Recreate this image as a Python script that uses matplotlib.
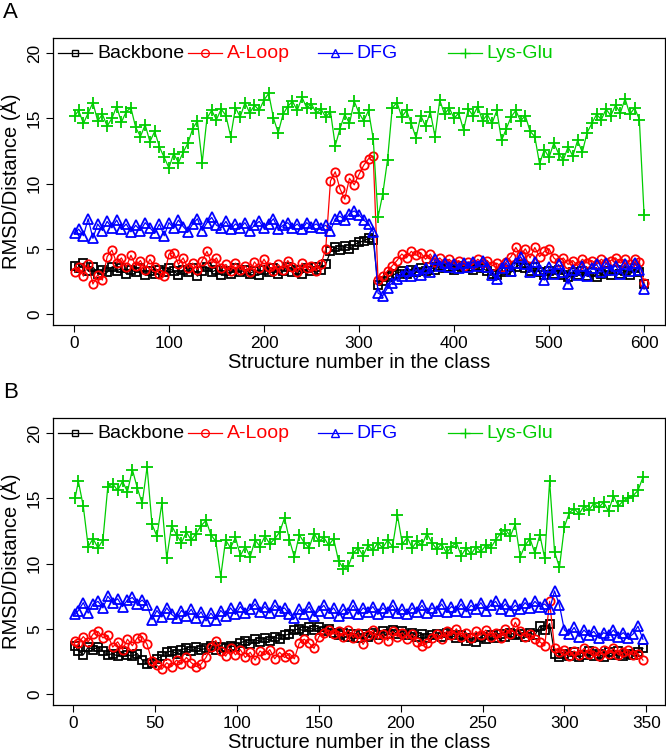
import numpy as np
import matplotlib
matplotlib.use('Agg')
import matplotlib.pyplot as plt
from matplotlib.transforms import blended_transform_factory

plt.rcParams['font.family'] = ['Liberation Sans', 'DejaVu Sans']

names = ['Backbone', 'A-Loop', 'DFG', 'Lys-Glu']
colors = ['#000000', '#FF0000', '#0000FF', '#00CD00']
markers = ['s', 'o', '^', '+']
msizes = [5.5, 6, 6.5, 8]

# ---- panel A : 600 structures (read every 5th structure) ----
x_a = np.r_[1, np.arange(5, 601, 5)]

backbone_a = [3.7, 3.5, 3.9, 3.3, 3.6, 3.1, 3.4, 3.2, 3.6, 3.3,
              3.5, 3.1, 3.4, 3.2, 3.5, 3.0, 3.3, 3.1, 3.4, 3.2,
              3.5, 3.3, 3.0, 3.4, 3.2, 3.5, 2.9, 3.3, 3.6, 3.2,
              3.4, 3.0, 3.3, 3.1, 3.5, 3.2, 3.4, 3.1, 3.3, 3.0,
              3.4, 3.2, 3.5, 3.1, 3.3, 3.6, 3.2, 3.4, 3.1, 3.5,
              3.3, 3.6, 3.4, 3.8, 4.8, 5.1, 4.9, 5.2, 5.0, 5.3,
              5.5, 5.6, 5.8, 5.7, 2.2, 2.5, 2.8, 3.0, 3.1, 3.3,
              3.1, 3.4, 3.2, 3.5, 3.3, 3.6, 3.4, 3.7, 3.5, 3.6,
              3.4, 3.7, 3.5, 3.6, 3.4, 3.7, 3.5, 3.3, 3.1, 3.0,
              3.2, 3.4, 3.2, 3.6, 3.8, 3.5, 3.3, 3.6, 3.2, 3.0,
              3.3, 3.1, 3.4, 3.0, 2.8, 3.2, 3.0, 3.3, 2.9, 3.2,
              2.8, 3.1, 3.3, 3.0, 3.4, 3.1, 3.3, 3.0, 3.5, 3.2,
              2.3]
aloop_a = [3.2, 3.6, 2.9, 3.8, 2.3, 3.0, 2.6, 4.4, 4.9, 3.9,
           4.3, 3.6, 4.5, 3.7, 4.1, 3.4, 4.2, 3.6, 3.1, 2.9,
           4.6, 4.7, 3.8, 4.3, 3.5, 3.9, 3.4, 4.1, 4.8, 3.9,
           4.3, 3.5, 3.8, 3.3, 3.9, 3.4, 3.7, 3.2, 4.0, 3.5,
           4.2, 3.6, 3.3, 3.8, 3.4, 4.1, 3.6, 3.2, 3.9, 3.5,
           3.7, 3.3, 3.8, 5.0, 10.2, 10.9, 9.6, 8.8, 10.4, 9.9,
           10.7, 11.4, 11.9, 12.1, 2.6, 2.9, 3.3, 3.7, 4.1, 4.6,
           4.3, 4.8, 4.5, 4.7, 4.2, 4.6, 4.0, 4.3, 3.9, 4.2,
           3.8, 4.1, 3.7, 4.0, 3.8, 4.2, 3.9, 4.1, 3.7, 3.9,
           3.6, 4.0, 4.4, 5.1, 4.5, 5.0, 4.3, 5.1, 4.4, 4.8,
           5.0, 4.3, 4.0, 4.3, 3.8, 4.1, 3.7, 4.2, 3.9, 4.1,
           3.8, 4.2, 3.9, 4.1, 4.3, 3.9, 4.2, 3.8, 4.2, 4.0,
           2.4]
dfg_a = [6.2, 6.5, 6.0, 7.3, 5.8, 6.9, 6.4, 7.1, 6.6, 7.2,
         6.5, 6.9, 6.3, 6.8, 6.4, 7.0, 6.6, 6.2, 6.9, 6.0,
         7.0, 6.6, 7.2, 6.7, 6.3, 6.9, 7.3, 6.4, 7.0, 7.4,
         6.8, 6.6, 7.1, 6.5, 6.9, 6.6, 7.0, 6.4, 6.8, 7.1,
         6.6, 6.9, 7.3, 6.5, 6.8, 7.0, 6.6, 6.9, 6.5, 7.0,
         6.7, 6.9, 6.6, 6.8, 6.4, 7.3, 7.5, 7.2, 7.7, 7.9,
         7.6, 7.2, 6.9, 6.3, 1.6, 1.4, 2.0, 2.4, 2.7, 2.9,
         3.3, 2.9, 3.4, 3.0, 3.5, 3.2, 4.2, 3.7, 3.9, 3.6,
         3.8, 3.5, 3.9, 3.6, 4.0, 3.7, 4.1, 3.6, 3.0, 2.7,
         3.5, 3.9, 3.3, 3.9, 4.4, 3.8, 3.2, 4.0, 3.4, 2.6,
         3.6, 3.1, 3.8, 3.2, 2.3, 3.4, 3.0, 3.7, 2.9, 3.5,
         3.8, 3.2, 3.9, 3.4, 3.7, 3.1, 3.8, 3.3, 3.9, 3.4,
         1.9]
lysglu_a = [15.2, 15.6, 14.6, 15.4, 16.2, 14.8, 15.3, 14.4, 15.0, 15.9,
            14.7, 15.5, 15.8, 14.3, 13.6, 14.5, 13.2, 14.0, 12.8, 12.0,
            11.2, 12.3, 11.6, 12.4, 13.1, 14.2, 14.8, 11.6, 15.0, 15.6,
            14.9, 15.7, 15.2, 13.6, 15.8, 15.1, 16.2, 15.4, 16.0, 15.6,
            16.4, 16.9, 15.0, 13.9, 15.3, 15.9, 16.3, 15.6, 16.6, 15.8,
            16.1, 15.4, 15.7, 15.1, 15.5, 12.9, 14.2, 15.3, 14.6, 16.3,
            15.4, 14.8, 15.6, 13.4, 7.4, 9.2, 11.8, 15.8, 16.2, 15.1,
            15.6, 14.6, 13.5, 15.2, 14.4, 15.5, 13.6, 16.4, 15.3, 15.8,
            15.0, 15.4, 14.1, 15.7, 15.2, 15.9, 14.8, 15.3, 14.6, 15.6,
            13.3, 14.2, 15.1, 15.6, 14.8, 15.2, 14.0, 13.6, 11.5, 12.6,
            12.0, 13.1, 12.3, 11.8, 12.8, 12.1, 13.3, 12.4, 13.9, 14.6,
            15.3, 14.9, 15.7, 15.2, 16.0, 15.4, 16.5, 15.3, 15.8, 14.9,
            7.6]

# ---- panel B : 348 structures (read every 3rd structure) ----
x_b = np.r_[1, np.arange(3, 349, 3)]

backbone_b = [3.7, 3.3, 3.0, 3.6, 3.4, 3.6, 3.3, 3.0, 3.1, 2.9,
              3.2, 3.0, 2.9, 3.1, 2.6, 2.3, 2.4, 2.7, 2.9, 3.2,
              3.3, 3.1, 3.4, 3.5, 3.3, 3.6, 3.4, 3.5, 3.7, 3.4,
              3.6, 3.5, 3.7, 3.6, 3.9, 4.1, 3.8, 4.2, 4.0, 4.3,
              4.1, 4.4, 4.2, 4.5, 4.6, 4.9, 5.0, 4.8, 5.1, 4.9,
              5.1, 4.8, 5.0, 4.7, 4.5, 4.7, 4.4, 4.6, 4.3, 4.6,
              4.4, 4.7, 4.5, 4.8, 4.6, 4.9, 4.6, 4.8, 4.5, 4.7,
              4.4, 4.6, 4.3, 4.5, 4.6, 4.4, 4.7, 4.5, 4.3, 4.5,
              4.1, 4.3, 4.0, 4.4, 4.2, 4.5, 4.3, 4.6, 4.4, 4.7,
              4.5, 4.6, 4.4, 4.7, 4.5, 5.2, 4.9, 5.4, 3.1, 2.8,
              3.1, 2.9, 3.2, 2.8, 3.0, 3.3, 2.9, 3.1, 2.8, 3.2,
              3.0, 3.3, 2.9, 3.1, 3.0, 3.2, 3.5]
aloop_b = [4.1, 3.9, 4.4, 4.0, 4.6, 4.8, 4.3, 4.5, 3.6, 4.0,
           3.4, 4.2, 3.7, 4.3, 4.4, 3.8, 2.5, 2.2, 1.9, 2.4,
           2.1, 2.6, 2.3, 2.8, 2.4, 2.1, 2.3, 2.8, 3.6, 4.1,
           3.3, 2.9, 3.5, 3.0, 3.4, 2.8, 3.2, 2.6, 3.3, 3.0,
           3.4, 2.7, 3.2, 2.8, 3.1, 2.7, 3.9, 4.2, 3.9, 3.5,
           4.4, 4.7, 4.9, 4.6, 4.8, 4.4, 4.9, 4.3, 4.7, 3.8,
           4.5, 4.9, 4.2, 4.6, 4.1, 4.8, 4.4, 4.7, 4.2, 4.6,
           4.0, 3.7, 3.9, 4.3, 4.6, 4.2, 4.8, 4.5, 5.0, 4.4,
           4.7, 4.3, 4.8, 4.5, 4.9, 4.4, 4.7, 4.3, 5.0, 4.6,
           5.5, 4.8, 4.4, 4.6, 4.2, 4.0, 3.7, 7.1, 3.5, 3.2,
           3.4, 2.9, 3.3, 3.0, 3.5, 3.1, 3.3, 2.9, 3.4, 3.1,
           3.5, 3.0, 3.2, 3.4, 3.0, 3.1, 2.6]
dfg_b = [6.1, 6.4, 7.0, 6.2, 6.9, 7.1, 6.6, 7.5, 7.0, 7.3,
         6.7, 7.2, 7.4, 6.9, 7.2, 6.8, 5.7, 6.4, 5.9, 6.6,
         6.1, 5.8, 6.4, 6.0, 6.5, 5.8, 6.3, 5.6, 6.2, 5.7,
         6.4, 6.0, 6.6, 6.1, 6.7, 6.2, 6.5, 6.9, 6.3, 6.7,
         6.2, 6.8, 6.4, 6.6, 6.1, 5.8, 6.5, 6.1, 6.7, 6.0,
         6.4, 6.8, 6.2, 6.6, 6.0, 6.5, 6.2, 6.8, 6.1, 6.6,
         6.3, 6.7, 6.1, 6.6, 6.3, 6.8, 6.2, 6.5, 6.1, 6.6,
         6.3, 6.8, 6.2, 6.6, 6.4, 6.9, 6.3, 6.7, 6.4, 6.9,
         6.3, 6.8, 6.5, 7.0, 6.4, 6.8, 7.1, 6.5, 6.9, 6.4,
         6.8, 6.5, 7.0, 6.6, 7.1, 6.7, 6.9, 6.5, 7.9, 6.8,
         4.9, 4.6, 5.1, 4.4, 4.9, 4.5, 4.8, 4.3, 4.7, 4.5,
         4.9, 4.4, 4.7, 4.3, 4.6, 5.2, 4.2]
lysglu_b = [15.0, 16.3, 14.4, 11.3, 11.9, 11.2, 11.8, 15.9, 16.1, 15.6,
            16.3, 15.5, 17.2, 15.8, 14.6, 17.4, 13.0, 12.1, 14.6, 10.4,
            12.9, 12.2, 11.6, 12.4, 11.8, 12.3, 12.9, 13.3, 12.2, 11.7,
            9.0, 11.8, 11.2, 12.0, 10.6, 11.3, 10.5, 11.8, 11.3, 12.1,
            11.5, 11.9, 12.4, 13.5, 11.8, 10.5, 12.2, 11.6, 11.2, 12.3,
            11.7, 12.0, 11.4, 11.9, 10.2, 9.6, 9.8, 10.8, 11.2, 10.6,
            11.4, 11.0, 11.6, 11.2, 11.8, 11.3, 13.7, 11.5, 12.0, 11.2,
            11.7, 11.4, 12.3, 11.6, 11.1, 11.5, 10.8, 11.3, 11.6, 10.6,
            11.2, 10.7, 11.3, 10.9, 11.4, 11.2, 11.8, 12.3, 12.6, 12.1,
            13.0, 10.5, 11.4, 11.9, 10.8, 12.2, 10.4, 16.3, 10.9, 9.7,
            12.8, 13.9, 14.2, 13.8, 14.4, 14.1, 14.6, 14.3, 14.7, 14.0,
            15.2, 14.4, 14.8, 15.0, 15.2, 15.6, 16.6]


def draw_panel(ax, x, series, xlim, xticks):
    for y, c, m, ms in zip(series, colors, markers, msizes):
        ax.plot(x, y, color=c, lw=0.9, marker=m, ms=ms,
                mfc='none', mec=c, mew=1.3)
    ax.set_xlim(xlim)
    ax.set_ylim(-0.84, 21.15)
    ax.set_xticks(xticks)
    ax.set_yticks([0, 5, 10, 15, 20])
    for lab in ax.get_yticklabels():
        lab.set_rotation(90)
        lab.set_va('center')
    ax.tick_params(labelsize=12.4, length=5, width=0.8, pad=3)
    for s in ax.spines.values():
        s.set_linewidth(0.9)
    ax.set_xlabel('Structure number in the class', fontsize=14.5, labelpad=1)
    ax.set_ylabel('RMSD/Distance (Å)', fontsize=14.5, labelpad=4)

    # horizontal legend, R style, no box
    tr = blended_transform_factory(ax.transAxes, ax.transData)
    for i, (n, c, m) in enumerate(zip(names, colors, markers)):
        x0 = 0.008 + i * 0.2124
        ax.plot([x0, x0 + 0.0556], [20, 20], transform=tr, color=c, lw=0.9)
        ax.plot([x0 + 0.0278], [20], transform=tr, color=c, marker=m,
                ms=msizes[i] - 0.5, mfc='none', mec=c, mew=1.0)
        ax.text(x0 + 0.0637, 20, n, transform=tr, color=c, fontsize=14,
                va='center', ha='left')


fig = plt.figure(figsize=(6.66, 7.51), dpi=100)
ax_a = fig.add_axes([53 / 666, 1 - 325 / 751, 612 / 666, 287 / 751])
ax_b = fig.add_axes([53 / 666, 1 - 705 / 751, 612 / 666, 287 / 751])

draw_panel(ax_a, x_a, [backbone_a, aloop_a, dfg_a, lysglu_a],
           (-22, 622), range(0, 601, 100))
draw_panel(ax_b, x_b, [backbone_b, aloop_b, dfg_b, lysglu_b],
           (-12.5, 361.5), range(0, 351, 50))

fig.text(0.004, 1 - 13 / 751, 'A', fontsize=16, va='center')
fig.text(0.004, 1 - 393 / 751, 'B', fontsize=16, va='center')

fig.savefig('out.png', dpi=100)
